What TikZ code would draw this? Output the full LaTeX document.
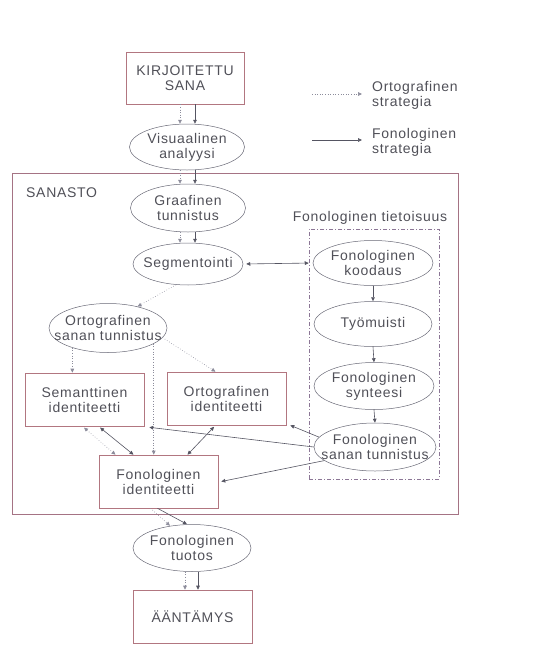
\documentclass[tikz,border=0pt]{standalone}
\usepackage{fontspec}
\setmainfont{Liberation Sans}[LetterSpace=5]
\usetikzlibrary{shapes.geometric,arrows.meta,calc}
\definecolor{txtc}{RGB}{80,80,88}
\definecolor{boxc}{RGB}{178,118,128}
\definecolor{ellc}{RGB}{105,105,118}
\definecolor{linec}{RGB}{85,85,98}
\definecolor{dotc}{RGB}{140,140,155}
\definecolor{framec}{RGB}{165,115,132}
\definecolor{dashc}{RGB}{140,118,150}
\begin{document}
\begin{tikzpicture}[x=1pt,y=-1pt,
  txt/.style={text=txtc, font=\fontsize{14}{15}\selectfont, align=center, inner sep=0pt},
  rbox/.style={draw=boxc, line width=0.6pt, inner sep=0pt, minimum width=119pt, minimum height=53pt, txt},
  ell/.style={ellipse, draw=ellc, line width=0.5pt, inner sep=0pt},
  tip/.style={-{Triangle[length=4pt,width=3.6pt]}},
  dtip/.style={{Triangle[length=4pt,width=3.6pt]}-{Triangle[length=4pt,width=3.6pt]}},
  sol/.style={draw=linec, line width=0.6pt},
  dot/.style={draw=dotc, line width=0.6pt, dotted},
]
\useasboundingbox (0,0) rectangle (543,659);

% column x positions
\coordinate (cA) at (180,0);
\coordinate (cB) at (195,0);
\coordinate (cC) at (185,0);
\coordinate (cD) at (198,0);

% big frame
\node[draw=framec, line width=0.6pt, minimum width=446pt, minimum height=341pt, inner sep=0pt] (san) at (235,343.5) {};
\node[txt, anchor=west] (sanl) at (26,193) {SANASTO};

% dash-dot frame
\node[draw=dashc, line width=0.5pt, dash pattern=on 4pt off 2pt on 1pt off 2pt, minimum width=130pt, minimum height=250pt, inner sep=0pt] (fti) at (374,354) {};
\node[txt] (ftl) at (370,218) {Fonologinen tietoisuus};

% nodes
\node[rbox, minimum width=118pt, minimum height=52pt] (kir) at (185,78) {KIRJOITETTU\\SANA};
\node[ell, minimum width=115pt, minimum height=46pt, label={[txt]center:Visuaalinen\\analyysi}] (vis) at (187,147) {};
\node[ell, minimum width=115pt, minimum height=48pt, label={[txt]center:Graafinen\\tunnistus}] (gra) at (188,208) {};
\node[ell, minimum width=110pt, minimum height=42pt, label={[txt]center:Segmentointi}] (seg) at (188,264) {};

\node[ell, minimum width=120pt, minimum height=45pt, label={[txt]center:Fonologinen\\koodaus}] (kood) at (373,263) {};
\node[ell, minimum width=118pt, minimum height=45pt, label={[txt]center:Työmuisti}] (tyo) at (373,324) {};
\node[ell, minimum width=120pt, minimum height=47pt, label={[txt]center:Fonologinen\\synteesi}] (syn) at (374,386) {};
\node[ell, minimum width=122pt, minimum height=48pt, label={[txt]center:Fonologinen\\sanan tunnistus}] (fst) at (375,447) {};

\node[ell, minimum width=118pt, minimum height=49pt, label={[txt]center:Ortografinen\\sanan tunnistus}] (ost) at (108,328) {};

\node[rbox] (sem) at (84.5,399.5) {Semanttinen\\identiteetti};
\node[rbox] (oid) at (226.5,398.5) {Ortografinen\\identiteetti};
\node[rbox] (fid) at (158.5,481.5) {Fonologinen\\identiteetti};

\node[ell, minimum width=118pt, minimum height=47pt, label={[txt]center:Fonologinen\\tuotos}] (tuo) at (192,548) {};
\node[rbox] (aan) at (192.5,616.5) {ÄÄNTÄMYS};

% legend
\coordinate (l1a) at (312,94);
\coordinate (l1b) at (362,94);
\coordinate (l2a) at (312,140);
\coordinate (l2b) at (362,140);
\draw[dot,tip] (l1a) -- (l1b);
\draw[sol,tip] (l2a) -- (l2b);
\node[txt, anchor=west, align=left] (l1t) at (372,95.5) {Ortografinen\\strategia};
\node[txt, anchor=west, align=left] (l2t) at (372,142) {Fonologinen\\strategia};

% main column
\draw[dot,tip] (kir.south -| cA) -- (vis.north -| cA);
\draw[sol,tip] (kir.south -| cB) -- (vis.north -| cB);
\draw[dot,tip] (vis.south -| cA) -- (gra.north -| cA);
\draw[sol,tip] (vis.south -| cB) -- (gra.north -| cB);
\draw[dot,tip] (gra.south -| cA) -- (seg.north -| cA);
\draw[sol,tip] (gra.south -| cB) -- (seg.north -| cB);

% phonological awareness chain
\draw[sol,dtip, shorten <=3pt, shorten >=4pt] (seg.east) -- (kood.west);
\draw[sol,tip] (kood.south) -- (tyo.north);
\draw[sol,tip] (tyo.south) -- (syn.north);
\draw[sol,tip] (syn.south) -- (fst.north);

% orthographic strategy
\draw[dot,tip] (seg.240) -- (ost.36);
\draw[dot,tip] (ost.209) -- (ost.209 |- sem.north);
\draw[dot,tip] (ost.350) -- ($(oid.north)+(-11,0)$);
\draw[dot,tip] (ost.341) -- (ost.341 |- fid.north);

% identities
\draw[dot,dtip, shorten <=2pt] ($(sem.south)+(-2,0)$) -- ($(fid.north)+(-43,0)$);
\draw[sol,dtip, shorten <=2pt] ($(sem.south)+(14,0)$) -- ($(fid.north)+(-25,0)$);
\draw[sol,dtip, shorten <=2pt] ($(oid.south)+(-11,0)$) -- ($(fid.north)+(29,0)$);

% phonological word recognition outputs
\draw[sol,tip] (fst.170) -- ($(oid.south east)+(4,0)$);
\draw[sol,tip] (fst.west) -- ($(sem.south east)+(5,1)$);
\draw[sol,tip] (fst.195) -- ($(fid.east)+(3,0)$);

% output
\draw[dot,tip] ($(fid.south)+(-8,0)$) -- ($(tuo.north)+(-22,1.5)$);
\draw[sol,tip] ($(fid.south)+(-1,0)$) -- ($(tuo.north)+(-5,0)$);
\draw[dot,tip] (tuo.south -| cC) -- (aan.north -| cC);
\draw[sol,tip] (tuo.south -| cD) -- (aan.north -| cD);
\end{tikzpicture}
\end{document}
